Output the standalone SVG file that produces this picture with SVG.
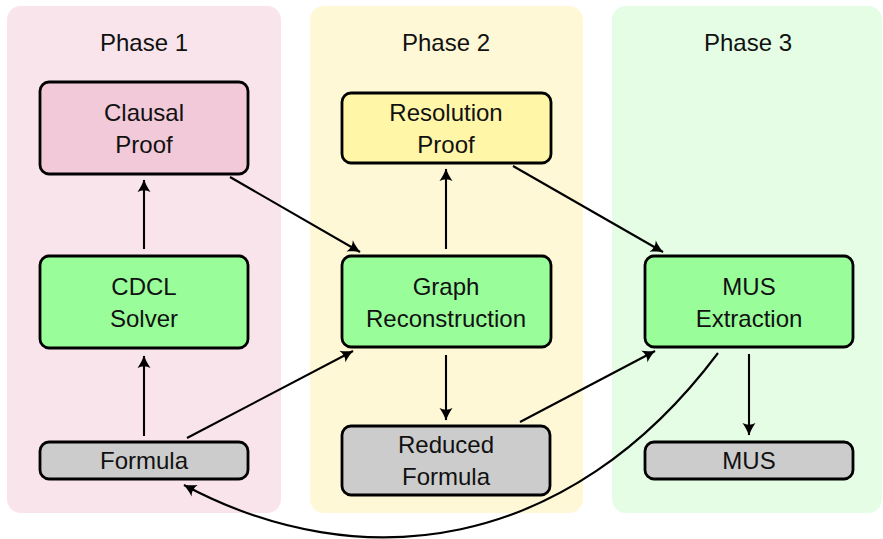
<svg xmlns="http://www.w3.org/2000/svg" width="883" height="539" viewBox="0 0 883 539">
<defs>
<style>
.panel{stroke:none}
.node{stroke:#000;stroke-width:2.8}
.t{font-family:"Liberation Sans",Arial,sans-serif;font-size:24px;fill:#111;text-anchor:middle}
.edge{fill:none;stroke:#000;stroke-width:2.1}
.pink{fill:#f2c9d8}
.yellow{fill:#fff6a8}
.green{fill:#99fd99}
.gray{fill:#cccccc}
</style>
<marker id="arr" markerUnits="userSpaceOnUse" viewBox="-14 -8 16 16" refX="0" refY="0" markerWidth="16" markerHeight="16" orient="auto">
<path d="M0.5,0 C-3,-1.2 -8,-3.5 -12,-6.5 Q-8.5,0 -12,6.5 C-8,3.5 -3,1.2 0.5,0 Z" fill="#000"/>
</marker>
</defs>
<g id="phase1">
<rect class="panel" x="7" y="6" width="274" height="507" rx="14" fill="#f9e4eb"/>
<text class="t" x="144" y="51">Phase 1</text>
</g>
<g id="phase2">
<rect class="panel" x="310" y="6" width="273" height="507" rx="14" fill="#fff8d6"/>
<text class="t" x="446" y="51">Phase 2</text>
</g>
<g id="phase3">
<rect class="panel" x="612" y="6" width="270" height="507" rx="14" fill="#e4fde4"/>
<text class="t" x="748" y="51">Phase 3</text>
</g>
<g id="clausal">
<rect class="node pink" x="40" y="82" width="208" height="92" rx="9"/>
<text class="t" x="144" y="121">Clausal</text>
<text class="t" x="144" y="153">Proof</text>
</g>
<g id="cdcl">
<rect class="node green" x="40" y="256" width="208" height="92" rx="9"/>
<text class="t" x="144" y="295">CDCL</text>
<text class="t" x="144" y="327">Solver</text>
</g>
<g id="formula">
<rect class="node gray" x="40" y="442" width="208" height="37" rx="9"/>
<text class="t" x="144" y="469">Formula</text>
</g>
<g id="resolution">
<rect class="node yellow" x="342" y="93" width="209" height="70" rx="9"/>
<text class="t" x="446" y="121">Resolution</text>
<text class="t" x="446" y="153">Proof</text>
</g>
<g id="graph">
<rect class="node green" x="342" y="256" width="209" height="91" rx="9"/>
<text class="t" x="446" y="295">Graph</text>
<text class="t" x="446" y="327">Reconstruction</text>
</g>
<g id="reduced">
<rect class="node gray" x="342" y="426" width="208" height="69" rx="9"/>
<text class="t" x="446" y="453">Reduced</text>
<text class="t" x="446" y="485">Formula</text>
</g>
<g id="musext">
<rect class="node green" x="645" y="256" width="208" height="91" rx="9"/>
<text class="t" x="749" y="295">MUS</text>
<text class="t" x="749" y="327">Extraction</text>
</g>
<g id="mus">
<rect class="node gray" x="645" y="442" width="208" height="37" rx="9"/>
<text class="t" x="749" y="469">MUS</text>
</g>
<g id="connectors">
<path class="edge" marker-end="url(#arr)" d="M144,436 L144,356"/>
<path class="edge" marker-end="url(#arr)" d="M144,249 L144,180"/>
<path class="edge" marker-end="url(#arr)" d="M230,177 L360,252"/>
<path class="edge" marker-end="url(#arr)" d="M187,438 L353,351"/>
<path class="edge" marker-end="url(#arr)" d="M446,249 L446,169"/>
<path class="edge" marker-end="url(#arr)" d="M513,166 L663,252"/>
<path class="edge" marker-end="url(#arr)" d="M446,355 L446,420"/>
<path class="edge" marker-end="url(#arr)" d="M520,422 L655,351"/>
<path class="edge" marker-end="url(#arr)" d="M749,354 L749,435"/>
<path class="edge" marker-end="url(#arr)" d="M718,353 C568,553 360,579 184,485"/>
</g>
</svg>
